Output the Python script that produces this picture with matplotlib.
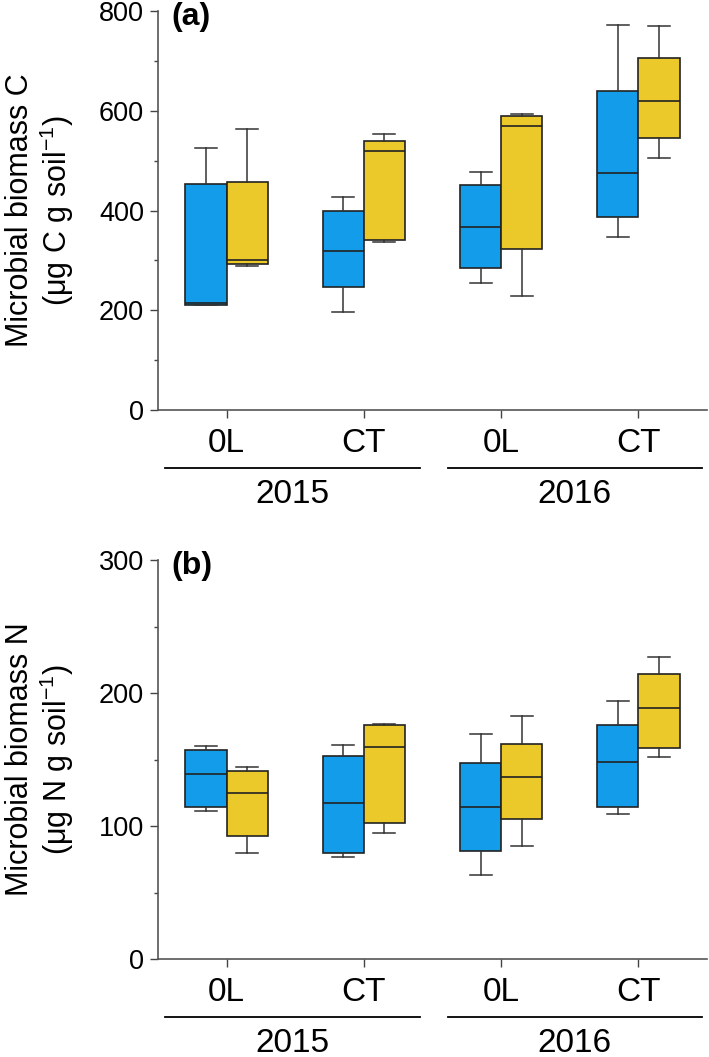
import numpy as np
import matplotlib
matplotlib.use("Agg")
import matplotlib.pyplot as plt

plt.rcParams['font.family'] = ['Liberation Sans', 'DejaVu Sans']
plt.rcParams['mathtext.fontset'] = 'custom'
plt.rcParams['mathtext.rm'] = 'Liberation Sans'

# treatments and years
treatments = ['0L', 'CT', '0L', 'CT']
years = ['2015', '2016']

# panel (a): microbial biomass C, box stats
blue_c_lo = [210, 196, 255, 347]
blue_c_q1 = [211, 246, 285, 386]
blue_c_med = [214, 319, 366, 476]
blue_c_q3 = [453, 400, 452, 640]
blue_c_hi = [525, 428, 478, 771]

yellow_c_lo = [288, 337, 229, 506]
yellow_c_q1 = [292, 341, 322, 545]
yellow_c_med = [301, 520, 569, 619]
yellow_c_q3 = [458, 540, 590, 706]
yellow_c_hi = [563, 554, 594, 769]

# panel (b): microbial biomass N
blue_n_lo = [111, 77, 63, 109]
blue_n_q1 = [114.5, 80, 81.5, 114]
blue_n_med = [139, 117, 114, 148]
blue_n_q3 = [157, 153, 147, 176]
blue_n_hi = [160, 161, 169, 194]

yellow_n_lo = [80, 95, 85, 152]
yellow_n_q1 = [92.5, 102, 105.5, 158.5]
yellow_n_med = [125, 159.5, 137, 189]
yellow_n_q3 = [141, 176, 162, 214]
yellow_n_hi = [144.5, 177, 182.5, 227]

BLUE = '#139cea'
YELLOW = '#ebc92a'
W = 0.30


def make_stats(lo, q1, med, q3, hi):
    return [dict(whislo=a, q1=b, med=c, q3=d, whishi=e, fliers=[])
            for a, b, c, d, e in zip(lo, q1, med, q3, hi)]


def draw_panel(ax, blue, yellow, ymax, step, letter, ylab1, ylab2):
    pos = np.arange(1, 5)
    for stats, color, off in [(blue, BLUE, -W / 2), (yellow, YELLOW, W / 2)]:
        ax.bxp(stats, positions=pos + off, widths=W, patch_artist=True,
               showfliers=False, manage_ticks=False,
               boxprops=dict(facecolor=color, edgecolor='#222222', linewidth=1.2),
               medianprops=dict(color='#222222', linewidth=1.2),
               whiskerprops=dict(color='#333333', linewidth=1.1),
               capprops=dict(color='#333333', linewidth=1.1),
               capwidths=0.16)

    ax.set_xlim(0.5, 4.5)
    ax.set_ylim(0, ymax)
    ax.set_yticks(np.arange(0, ymax + 1, step))
    ax.set_yticks(np.arange(step / 2, ymax, step), minor=True)
    ax.set_xticks(pos)
    ax.set_xticklabels(treatments, fontsize=24)
    ax.tick_params(axis='y', labelsize=19.5, length=6, width=1, color='#444444', pad=4)
    ax.tick_params(axis='y', which='minor', length=3, width=1, color='#444444')
    ax.tick_params(axis='x', length=6, width=1, color='#444444', pad=7)
    for s in ['top', 'right']:
        ax.spines[s].set_visible(False)
    for s in ['left', 'bottom']:
        ax.spines[s].set_color('#555555')
        ax.spines[s].set_linewidth(1.2)

    ax.text(0.025, 0.985, letter, transform=ax.transAxes, fontsize=23,
            fontweight='bold', va='center', ha='left')

    # year group lines under the axis
    trans = ax.get_xaxis_transform()
    for x0, x1, yr in [(0.55, 2.41, years[0]), (2.61, 4.46, years[1])]:
        ax.plot([x0, x1], [-0.146, -0.146], color='black', lw=1.3,
                transform=trans, clip_on=False)
        ax.text((x0 + x1) / 2, -0.212, yr, transform=trans, fontsize=24,
                ha='center', va='center')

    bb = ax.get_position()
    yc = (bb.y0 + bb.y1) / 2
    fig.text(20 / 709, yc, ylab1, rotation=90, fontsize=22, ha='center', va='center')
    fig.text(57 / 709, yc, ylab2, rotation=90, fontsize=22, ha='center', va='center')


fig = plt.figure(figsize=(7.09, 10.57), dpi=100)
ax1 = fig.add_axes([158 / 709, 1 - 410 / 1057, 549 / 709, 399 / 1057])
ax2 = fig.add_axes([158 / 709, 1 - 959 / 1057, 549 / 709, 399 / 1057])

draw_panel(ax1,
           make_stats(blue_c_lo, blue_c_q1, blue_c_med, blue_c_q3, blue_c_hi),
           make_stats(yellow_c_lo, yellow_c_q1, yellow_c_med, yellow_c_q3, yellow_c_hi),
           800, 200, '(a)', 'Microbial biomass C', r'(μg C g soil$^{-1}$)')
draw_panel(ax2,
           make_stats(blue_n_lo, blue_n_q1, blue_n_med, blue_n_q3, blue_n_hi),
           make_stats(yellow_n_lo, yellow_n_q1, yellow_n_med, yellow_n_q3, yellow_n_hi),
           300, 100, '(b)', 'Microbial biomass N', r'(μg N g soil$^{-1}$)')

fig.savefig('out.png', dpi=100)
